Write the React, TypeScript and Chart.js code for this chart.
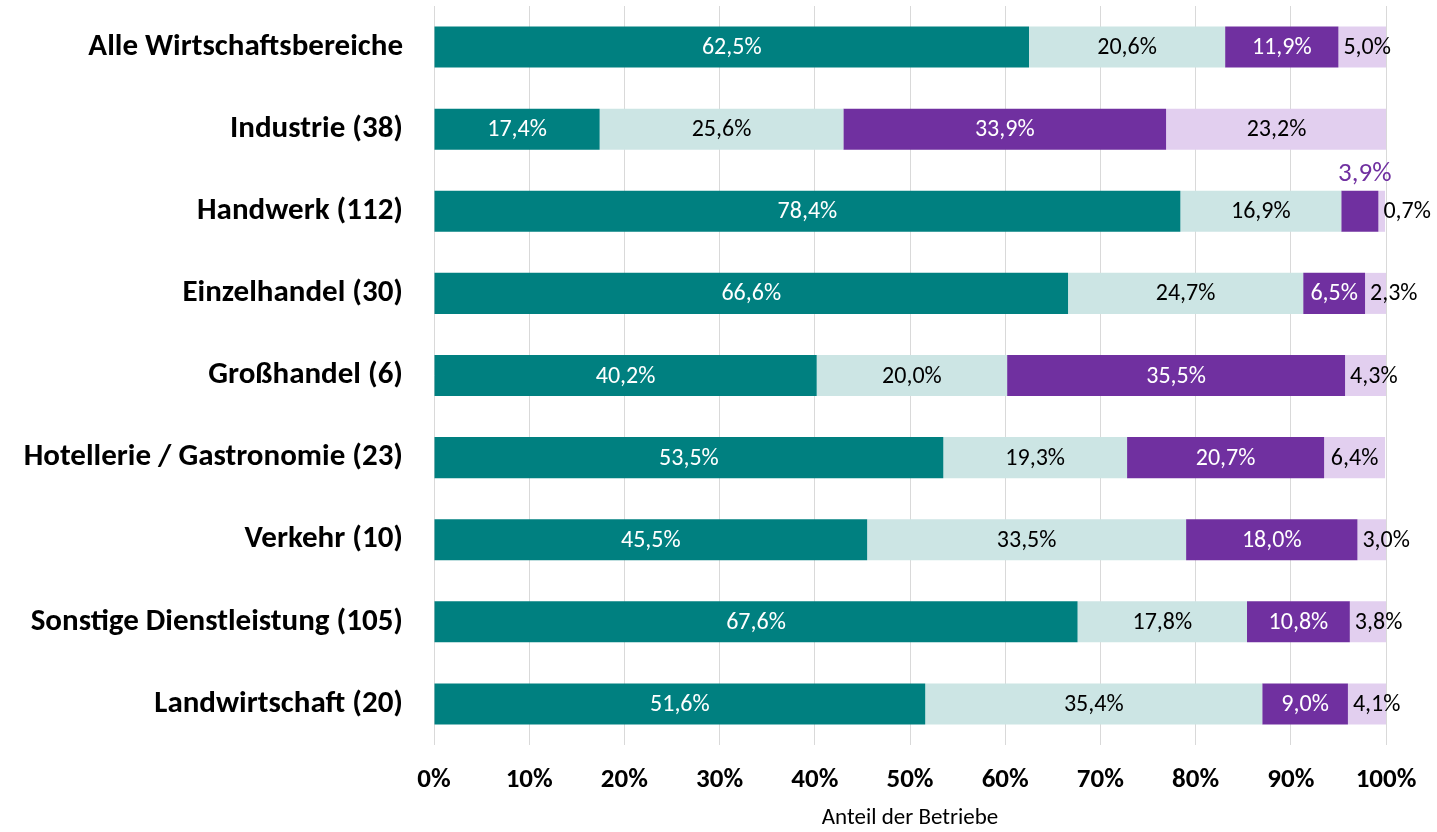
import React, { useEffect, useRef } from "react";
import { Chart, registerables } from "chart.js";

Chart.register(...registerables);

const categories = [
  "Alle Wirtschaftsbereiche",
  "Industrie (38)",
  "Handwerk (112)",
  "Einzelhandel (30)",
  "Großhandel (6)",
  "Hotellerie / Gastronomie (23)",
  "Verkehr (10)",
  "Sonstige Dienstleistung (105)",
  "Landwirtschaft (20)",
];

const series1 = [62.5, 17.4, 78.4, 66.6, 40.2, 53.5, 45.5, 67.6, 51.6];
const series2 = [20.6, 25.6, 16.9, 24.7, 20.0, 19.3, 33.5, 17.8, 35.4];
const series3 = [11.9, 33.9, 3.9, 6.5, 35.5, 20.7, 18.0, 10.8, 9.0];
const series4 = [5.0, 23.2, 0.7, 2.3, 4.3, 6.4, 3.0, 3.8, 4.1];

const xTicks = [0, 10, 20, 30, 40, 50, 60, 70, 80, 90, 100];

const FONT = "Carlito, Calibri, Lato, 'Open Sans', sans-serif";

const colors = ["#008080", "#CCE5E4", "#7030A0", "#E2CFEF"];
const labelColors = ["#FFFFFF", "#000000", "#FFFFFF", "#000000"];

const fmt = (v: number) => v.toFixed(1).replace(".", ",") + "%";

const labelPlugin = {
  id: "barLabels",
  afterDatasetsDraw(chart: any) {
    const ctx = chart.ctx;
    ctx.save();
    const base = `24px ${FONT}`;
    ctx.font = base;
    ctx.textBaseline = "middle";
    chart.data.datasets.forEach((ds: any, di: number) => {
      const meta = chart.getDatasetMeta(di);
      meta.data.forEach((el: any, i: number) => {
        const v = ds.data[i];
        const text = fmt(v);
        const left = Math.min(el.x, el.base);
        const right = Math.max(el.x, el.base);
        const w = right - left;
        const tw = ctx.measureText(text).width;
        const cx = (left + right) / 2;
        if (tw + 6 <= w) {
          ctx.fillStyle = labelColors[di];
          ctx.textAlign = "center";
          ctx.fillText(text, cx, el.y + 1);
        } else if (di === 2) {
          ctx.fillStyle = colors[2];
          ctx.textAlign = "center";
          ctx.font = `27px ${FONT}`;
          ctx.fillText(text, cx + 5, el.y - el.height / 2 - 17);
          ctx.font = base;
        } else {
          ctx.fillStyle = "#000000";
          ctx.textAlign = "left";
          ctx.fillText(text, left + 5, el.y + 1);
        }
      });
    });
    ctx.restore();
  },
};

export default function App() {
  const ref = useRef<HTMLCanvasElement | null>(null);
  useEffect(() => {
    document.body.style.margin = "0";
    const c = ref.current!;
    const chart = new Chart(c, {
      type: "bar",
      data: {
        labels: categories,
        datasets: [series1, series2, series3, series4].map((d, i) => ({
          label: "S" + (i + 1),
          data: d,
          backgroundColor: colors[i],
          borderWidth: 0,
          barPercentage: 0.5,
          categoryPercentage: 1,
        })),
      },
      options: {
        indexAxis: "y",
        animation: false,
        responsive: false,
        maintainAspectRatio: false,
        layout: { padding: { top: 6, right: 51, left: 0, bottom: 0 } },
        plugins: {
          legend: { display: false },
          tooltip: { enabled: false },
        },
        scales: {
          x: {
            stacked: true,
            min: 0,
            max: 100,
            afterBuildTicks: (s: any) => {
              s.ticks = xTicks.map((v) => ({ value: v }));
            },
            afterFit: (s: any) => {
              s.height = 87;
            },
            grid: { color: "#D9D9D9", lineWidth: 1, drawTicks: false },
            border: { display: false },
            ticks: {
              padding: 19,
              color: "#000000",
              font: { family: FONT, size: 27, weight: "bold" },
              callback: (v: any) => v + "%",
              maxRotation: 0,
            },
            title: {
              display: true,
              text: "Anteil der Betriebe",
              color: "#000000",
              font: { family: FONT, size: 23 },
              padding: { top: 8, bottom: 0 },
            },
          },
          y: {
            stacked: true,
            afterFit: (s: any) => {
              s.width = 434;
              s.paddingTop = 0;
              s.paddingBottom = 0;
            },
            grid: { display: false, drawTicks: false },
            border: { display: false },
            ticks: {
              padding: 31,
              color: "#000000",
              font: { family: FONT, size: 31, weight: "bold" },
            },
          },
        },
      },
      plugins: [labelPlugin],
    });
    return () => chart.destroy();
  }, []);
  return (
    <div style={{ width: 1437, height: 832, background: "#fff" }}>
      <canvas ref={ref} width={1437} height={832} style={{ display: "block" }} />
    </div>
  );
}
